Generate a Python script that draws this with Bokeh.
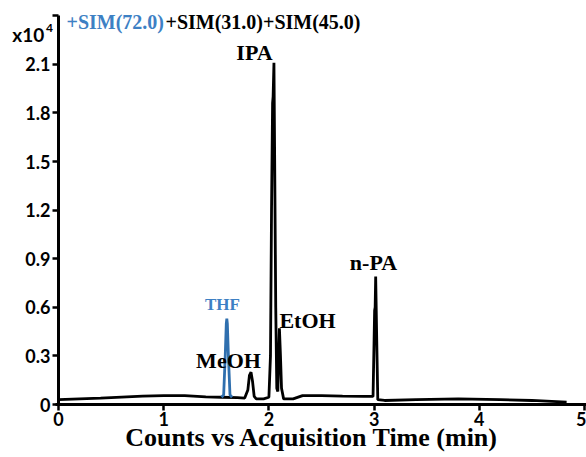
from bokeh.plotting import figure
from bokeh.models import Label, FixedTicker, Range1d
from bokeh.embed import file_html
from bokeh.resources import INLINE

# ---- data (x10^4 counts vs minutes) ----
sim_black_t = [0.0, 0.4, 0.8, 1.0, 1.2, 1.4, 1.55, 1.7, 1.77, 1.80, 1.815, 1.83, 1.845, 1.86, 1.88,
               1.95, 2.0, 2.015, 2.025, 2.035, 2.04, 2.048, 2.055, 2.065, 2.075, 2.085,
               2.095, 2.10, 2.11, 2.12, 2.14, 2.23, 2.32, 2.5, 2.7, 2.9, 2.99, 3.0,
               3.005, 3.01, 3.015, 3.025, 3.035, 3.1, 3.4, 3.8, 4.2, 4.5, 4.83]
sim_black_y = [0.03, 0.04, 0.052, 0.055, 0.055, 0.047, 0.045, 0.043, 0.04, 0.09, 0.18, 0.20, 0.14, 0.05, 0.035,
               0.035, 0.045, 0.3, 1.2, 1.86, 1.9, 2.11, 1.5, 0.6, 0.1, 0.08,
               0.35, 0.47, 0.3, 0.1, 0.035, 0.035, 0.055, 0.055, 0.052, 0.05, 0.05, 0.4,
               0.58, 0.6, 0.79, 0.4, 0.03, 0.025, 0.03, 0.035, 0.03, 0.025, 0.015]

sim_blue_t = [1.55, 1.57, 1.585, 1.595, 1.60, 1.605, 1.615, 1.63, 1.65]
sim_blue_y = [0.045, 0.06, 0.3, 0.5, 0.53, 0.5, 0.3, 0.06, 0.045]

peak_names = ["IPA", "n-PA", "EtOH", "MeOH"]
peak_label_x = [1.863, 2.994, 2.367, 1.616]
peak_label_y = [2.173, 0.877, 0.519, 0.272]
thf_label = ("THF", 1.559, 0.617)

y_ticks = [0, 0.3, 0.6, 0.9, 1.2, 1.5, 1.8, 2.1, 2.4]
y_tick_labels = ["0", "0.3", "0.6", "0.9", "1.2", "1.5", "1.8", "2.1", ""]
x_ticks = [0, 1, 2, 3, 4, 5]

BLUE_TXT = "#3d80c4"
BLUE_LINE = "#2f6fae"
SERIF = "Liberation Serif"
SANS = "Lato"

p = figure(width=586, height=457, output_backend="svg", toolbar_location=None,
           x_range=Range1d(-0.5513, 5.019), y_range=Range1d(-0.327, 2.494),
           min_border=0)
p.outline_line_color = None
p.xgrid.grid_line_color = None
p.ygrid.grid_line_color = None
p.background_fill_color = "white"

p.line(sim_black_t, sim_black_y, line_color="black", line_width=2.8)
p.line(sim_blue_t, sim_blue_y, line_color=BLUE_LINE, line_width=2.8)

for ax in (p.xaxis[0], p.yaxis[0]):
    ax.fixed_location = 0
    ax.axis_line_width = 3
    ax.axis_line_color = "black"
    ax.major_tick_line_width = 2.5
    ax.major_tick_line_color = "black"
    ax.major_tick_out = 6
    ax.major_tick_in = 0
    ax.minor_tick_line_color = None
    ax.major_label_text_font = SANS
    ax.major_label_text_font_style = "bold"
    ax.major_label_text_font_size = "18px"
    ax.major_label_text_color = "black"

p.yaxis.ticker = FixedTicker(ticks=y_ticks)
p.yaxis.major_label_overrides = {t: l for t, l in zip(y_ticks, y_tick_labels)}
p.yaxis.major_label_standoff = 2
p.yaxis.bounds = (0, 2.4)
p.xaxis.ticker = FixedTicker(ticks=x_ticks)
p.xaxis.major_label_standoff = 1
p.xaxis.bounds = (-0.03, 5.019)

# x axis title
p.add_layout(Label(x=2.41, y=-0.204, text="Counts vs Acquisition Time (min)", text_align="center",
                   text_baseline="middle", text_font=SERIF, text_font_style="bold",
                   text_font_size="26px", text_color="black"))

for name, lx, ly in zip(peak_names, peak_label_x, peak_label_y):
    p.add_layout(Label(x=lx, y=ly, text=name, text_align="center", text_baseline="middle",
                       text_font=SERIF, text_font_style="bold", text_font_size="22px",
                       text_color="black"))
p.add_layout(Label(x=thf_label[1], y=thf_label[2], text=thf_label[0], text_align="center",
                   text_baseline="middle", text_font=SERIF, text_font_style="bold",
                   text_font_size="17px", text_color=BLUE_TXT))

# title parts
p.add_layout(Label(x=0.076, y=2.364, text="+SIM(72.0)", text_align="left", text_baseline="middle",
                   text_font=SERIF, text_font_style="bold", text_font_size="20px",
                   text_color=BLUE_TXT))
p.add_layout(Label(x=1.017, y=2.364, text="+SIM(31.0)+SIM(45.0)", text_align="left",
                   text_baseline="middle", text_font=SERIF, text_font_style="bold",
                   text_font_size="20px", text_color="black"))

# y scale multiplier
p.add_layout(Label(x=-0.44, y=2.284, text="x10", text_align="left", text_baseline="middle",
                   text_font=SANS, text_font_style="bold", text_font_size="19px",
                   text_color="black"))
p.add_layout(Label(x=-0.118, y=2.325, text="4", text_align="left", text_baseline="middle",
                   text_font=SANS, text_font_style="bold", text_font_size="12px",
                   text_color="black"))

open("out.html", "w").write(file_html(p, INLINE))
